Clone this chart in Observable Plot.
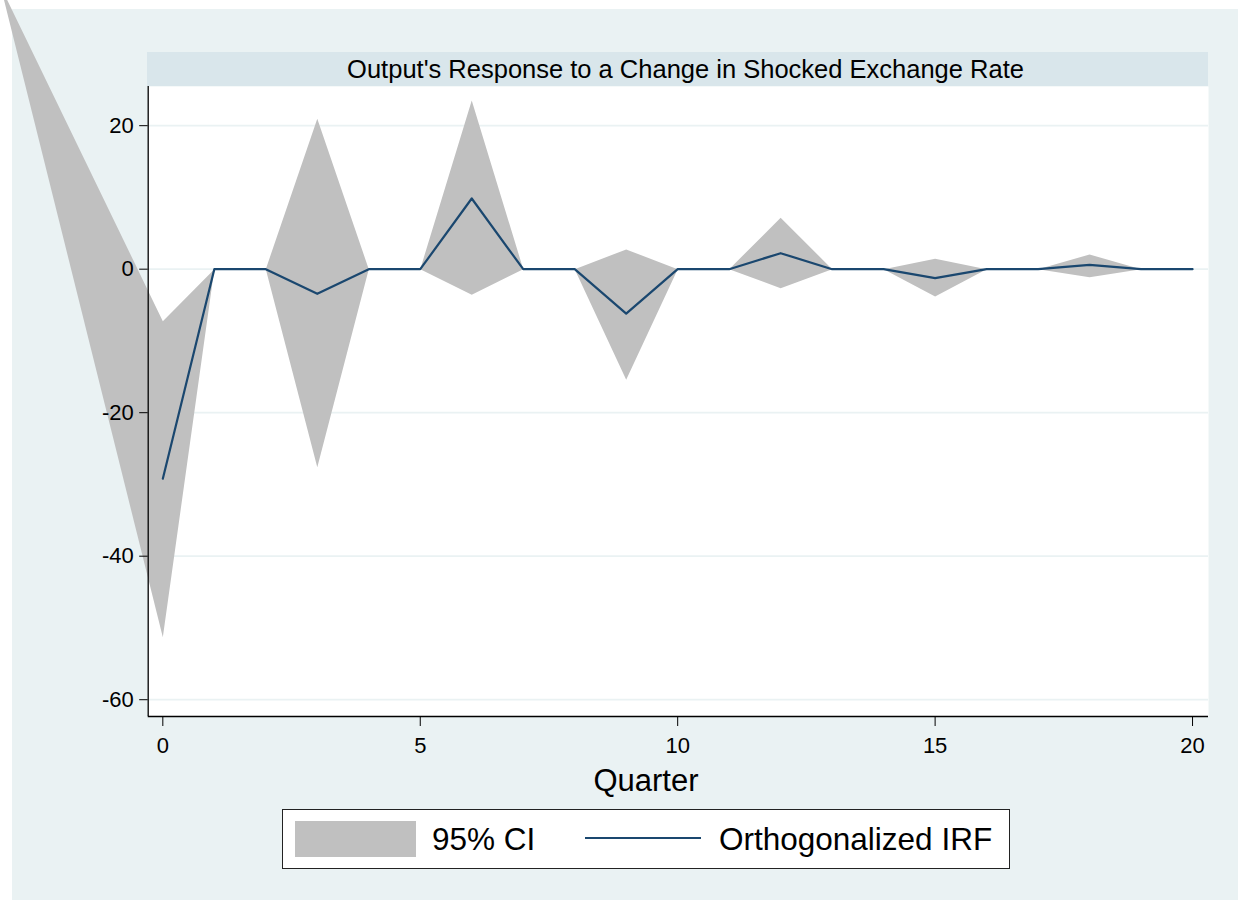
<!DOCTYPE html>
<html>
<head>
<meta charset="utf-8">
<script src="https://cdn.jsdelivr.net/npm/d3@7"></script>
<script src="https://cdn.jsdelivr.net/npm/@observablehq/plot@0.6"></script>
<style>
  html, body { margin: 0; padding: 0; background: #ffffff; width: 1250px; height: 911px; overflow: hidden; }
  body { position: relative; font-family: "Liberation Sans", Arial, Helvetica, sans-serif; color: #000; }
  #panel { position: absolute; left: 12px; top: 9px; width: 1226px; height: 891px; background: #eaf2f3; }
  #titlebar { position: absolute; left: 147px; top: 52px; width: 1045px; padding-left: 16px; height: 34px; background: #d9e6eb;
              display: flex; align-items: center; justify-content: center; font-size: 25.5px; }
  #chart { position: absolute; left: 0; top: 0; }
  #chart svg { overflow: visible; }
  #xlabel { position: absolute; left: 546px; width: 200px; top: 762px; text-align: center; font-size: 31px; line-height: 38px; }
  #legend { position: absolute; left: 282px; top: 809px; width: 726px; height: 58px; background: #fff; border: 1px solid #222; }
  .sw { position: absolute; }
  .lt { position: absolute; font-size: 31.5px; line-height: 36px; top: 11px; white-space: nowrap; }
</style>
</head>
<body>
<div id="panel"></div>
<div id="titlebar">Output's Response to a Change in Shocked Exchange Rate</div>
<div id="chart"></div>
<div id="xlabel">Quarter</div>
<div id="legend">
  <div class="sw" style="left:12px; top:11px; width:121px; height:36px; background:#c0c0c0;"></div>
  <div class="lt" style="left:149px;">95% CI</div>
  <div class="sw" style="left:302px; top:27px; width:116px; height:0; border-top:2.4px solid #1a476f;"></div>
  <div class="lt" style="left:436px;">Orthogonalized IRF</div>
</div>
<script>
// ---- data ----
const quarters = [0,1,2,3,4,5,6,7,8,9,10,11,12,13,14,15,16,17,18,19,20];
const irf      = [-29.2,0,0,-3.43,0,0,9.85,0,0,-6.2,0,0,2.23,0,0,-1.25,0,0,0.61,0,0];
const ciUpper  = [-7.25,0,0,20.96,0,0,23.5,0,0,2.75,0,0,7.16,0,0,1.45,0,0,2.05,0,0];
const ciLower  = [-51.3,0,0,-27.6,0,0,-3.57,0,0,-15.4,0,0,-2.65,0,0,-3.8,0,0,-1.11,0,0];
// stray first vertex of the CI polygon (rendering quirk in the source image)
const ciStrayVertex = {q: -3.15, v: 39.4};
const yTicks = [-60,-40,-20,0,20];
const xTicks = [0,5,10,15,20];
const xDomain = [-0.284, 20.31];
const yDomain = [-62.34, 25.46];

// ---- build tables ----
const irfData = quarters.map((q,i) => ({q, v: irf[i]}));
const polygon = [ciStrayVertex]
  .concat(quarters.map((q,i) => ({q, v: ciUpper[i]})))
  .concat(quarters.slice().reverse().map(q => ({q, v: ciLower[q]})));

const fmt = d => String(d);

const chart = Plot.plot({
  width: 1250,
  height: 911,
  marginLeft: 147.7,
  marginRight: 42,
  marginTop: 86,
  marginBottom: 195,
  x: {domain: xDomain},
  y: {domain: yDomain},
  style: {background: "transparent", color: "#000", fontFamily: "'Liberation Sans', Arial, sans-serif", overflow: "visible"},
  marks: [
    Plot.frame({fill: "#ffffff", stroke: null}),
    Plot.gridY(yTicks, {stroke: "#eaf2f3", strokeOpacity: 1, strokeWidth: 1.8}),
    Plot.line(polygon, {x: "q", y: "v", fill: "#c0c0c0", stroke: null, curve: "linear-closed", clip: false}),
    Plot.line(irfData, {x: "q", y: "v", stroke: "#1a476f", strokeWidth: 2.2}),
    Plot.ruleX([xDomain[0]], {stroke: "#000", strokeWidth: 1.3}),
    Plot.ruleY([yDomain[0]], {stroke: "#000", strokeWidth: 1.3}),
    Plot.axisY(yTicks, {tickSize: 8.5, tickPadding: 6, fontSize: 22, label: null, stroke: "#000", tickFormat: fmt}),
    Plot.axisX(xTicks, {tickSize: 10, tickPadding: 11, fontSize: 22, label: null, stroke: "#000", tickFormat: fmt})
  ]
});
document.getElementById("chart").appendChild(chart);
</script>
</body>
</html>
